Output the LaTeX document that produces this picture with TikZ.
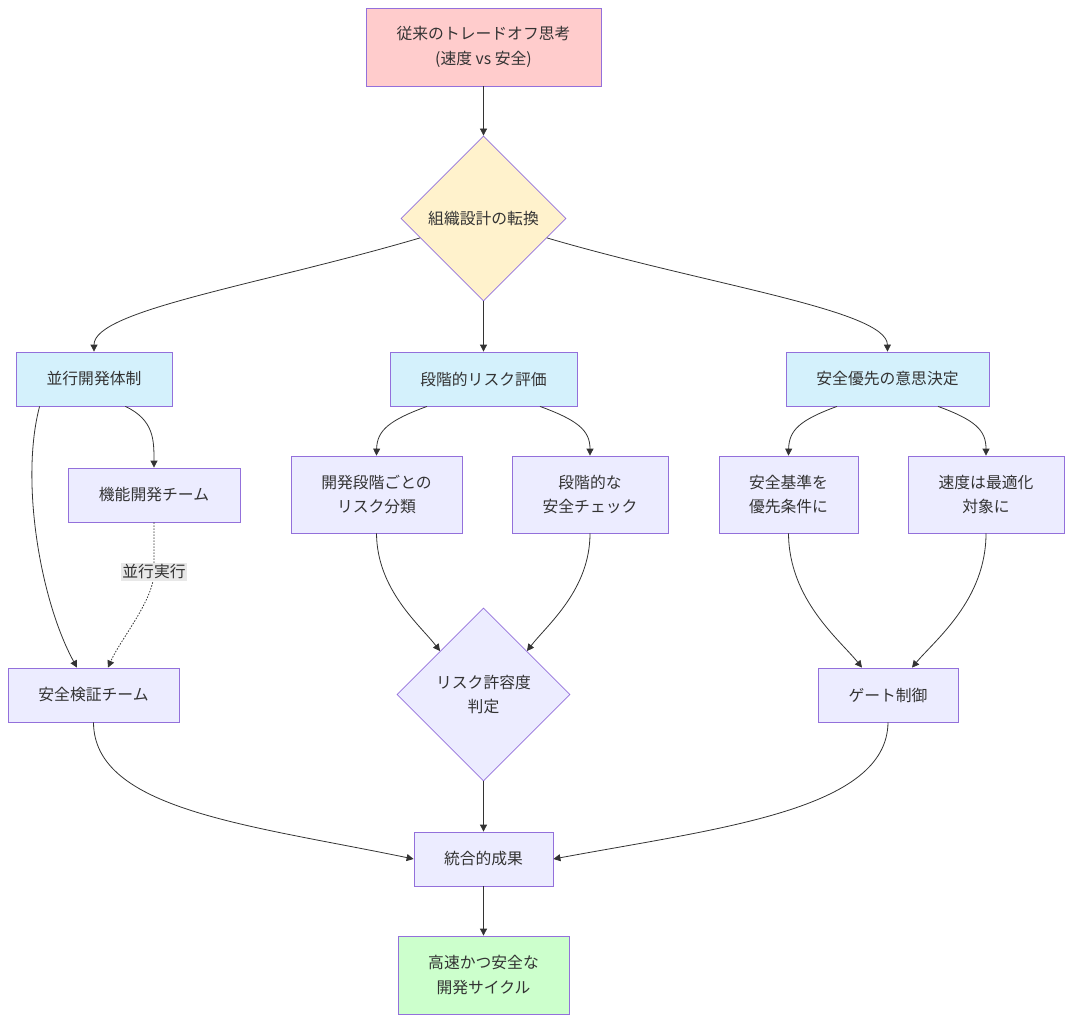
\documentclass[tikz,border=0pt]{standalone}
\usepackage{fontspec}
\setmainfont{Noto Sans CJK JP}
\usetikzlibrary{shapes.geometric,arrows.meta}
\definecolor{txt}{HTML}{333333}
\definecolor{bord}{HTML}{9370DB}
\definecolor{defl}{HTML}{ECECFF}
\definecolor{redf}{HTML}{FFCCCC}
\definecolor{yelf}{HTML}{FFF2CC}
\definecolor{cyaf}{HTML}{D4F1FC}
\definecolor{grnf}{HTML}{CCFFCC}
\definecolor{edgec}{HTML}{333333}
\definecolor{lblf}{HTML}{E8E8E8}
\tikzset{
  box/.style={draw=bord, line width=0.8pt, fill=defl, text=txt, align=center, inner sep=0pt,
    font=\fontsize{15.8}{24.5}\selectfont},
  dia/.style={box, shape=diamond, aspect=1},
  edge/.style={draw=edgec, line width=0.8pt, -{Triangle[length=7pt,width=7pt]}},
  lbl/.style={fill=lblf, text=txt, inner sep=1.5pt, font=\fontsize{15.8}{18}\selectfont},
}
\begin{document}
\begin{tikzpicture}[x=1pt,y=-1pt]
\useasboundingbox (0,0) rectangle (1073,1022);
\node[box, fill=redf, minimum width=235, minimum height=78] (top) at (483.5,47) {従来のトレードオフ思考\\(速度 vs 安全)};
\node[dia, fill=yelf, minimum width=165, minimum height=165] (d1) at (483.5,218.5) {組織設計の転換};
\node[box, fill=cyaf, minimum width=156, minimum height=54] (p1) at (94,379) {並行開発体制};
\node[box, fill=cyaf, minimum width=187, minimum height=54] (p2) at (483.5,379) {段階的リスク評価};
\node[box, fill=cyaf, minimum width=203, minimum height=54] (p3) at (887.5,379) {安全優先の意思決定};
\node[box, minimum width=172, minimum height=54] (f1) at (154,495) {機能開発チーム};
\node[box, minimum width=171, minimum height=77] (r1) at (376.5,494.5) {開発段階ごとの\\リスク分類};
\node[box, minimum width=156, minimum height=77] (r2) at (590,494.5) {段階的な\\安全チェック};
\node[box, minimum width=139, minimum height=77] (s1) at (788.5,494.5) {安全基準を\\優先条件に};
\node[box, minimum width=156, minimum height=77] (s2) at (986,494.5) {速度は最適化\\対象に};
\node[box, minimum width=171, minimum height=54] (v1) at (93.5,695) {安全検証チーム};
\node[dia, minimum width=173, minimum height=173] (d2) at (483.5,694.5) {リスク許容度\\判定};
\node[box, minimum width=140, minimum height=54] (g1) at (888,695) {ゲート制御};
\node[box, minimum width=139, minimum height=54] (o1) at (483.5,859) {統合的成果};
\node[box, fill=grnf, minimum width=171, minimum height=78] (fin) at (483.5,975) {高速かつ安全な\\開発サイクル};
\coordinate (lb) at (154,572);

\draw[edge] (top) -- (d1);
\draw[edge] (d1.197) .. controls (260,285) and (94,310) .. (p1.north);
\draw[edge] (d1) -- (p2);
\draw[edge] (d1.343) .. controls (707,285) and (887,310) .. (p3.north);
\draw[edge] (p1.south east) ++(-47,0) .. controls (154,420) and (154,440) .. (f1.north);
\draw[edge] (p1.south west) ++(24,0) .. controls (20,480) and (40,600) .. ([xshift=-16.5]v1.north);
\draw[edge, dash pattern=on 1.5pt off 1.5pt] (f1.south) .. controls (154,540) and (154,560) .. (lb) .. controls (154,600) and (120,640) .. ([xshift=14.5]v1.north);
\node[lbl] (lbn) at (lb) {並行実行};
\draw[edge] ([xshift=-56.5]p2.south) .. controls (390,420) and (377,430) .. (r1.north);
\draw[edge] ([xshift=56.5]p2.south) .. controls (577,420) and (590,430) .. (r2.north);
\draw[edge] (r1.south) .. controls (377,590) and (420,625) .. (d2.135);
\draw[edge] (r2.south) .. controls (590,590) and (547,625) .. (d2.45);
\draw[edge] ([xshift=-50.5]p3.south) .. controls (800,420) and (789,430) .. (s1.north);
\draw[edge] ([xshift=50.5]p3.south) .. controls (975,420) and (986,430) .. (s2.north);
\draw[edge] (s1.south) .. controls (789,600) and (840,640) .. ([xshift=-26]g1.north);
\draw[edge] (s2.south) .. controls (986,600) and (935,640) .. ([xshift=24]g1.north);
\draw[edge] (v1.south) .. controls (94,810) and (250,825) .. (o1.west);
\draw[edge] (d2) -- (o1);
\draw[edge] (g1.south) .. controls (887,810) and (720,828) .. (o1.east);
\draw[edge] (o1) -- (fin);
\end{tikzpicture}
\end{document}
